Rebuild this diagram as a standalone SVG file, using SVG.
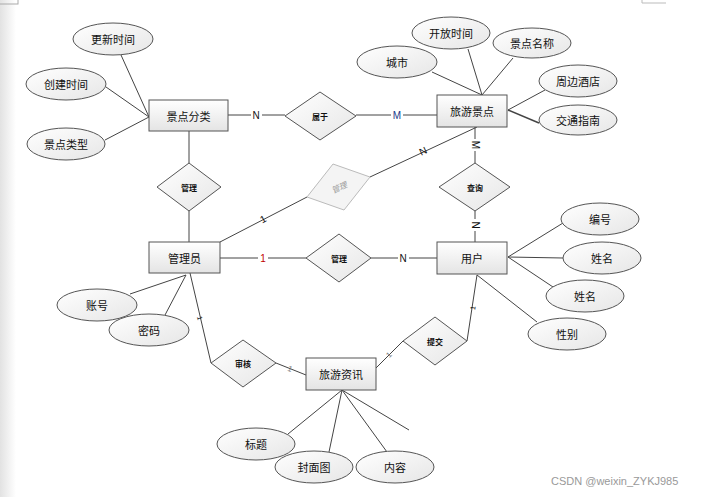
<svg xmlns="http://www.w3.org/2000/svg" width="704" height="497" viewBox="0 0 704 497">
<defs>
<linearGradient id="gr" x1="0" y1="0" x2="0" y2="1"><stop offset="0" stop-color="#ffffff"/><stop offset="1" stop-color="#e4e4e4"/></linearGradient>
<linearGradient id="ge" x1="0" y1="0" x2="1" y2="1"><stop offset="0" stop-color="#ffffff"/><stop offset="1" stop-color="#e6e6e6"/></linearGradient>
<linearGradient id="gl" x1="0" y1="0" x2="1" y2="0"><stop offset="0" stop-color="#e2e2e2"/><stop offset="1" stop-color="#ffffff"/></linearGradient>
</defs>
<style>
.ent{fill:url(#gr);stroke:#555;stroke-width:1}
.att{fill:url(#ge);stroke:#555;stroke-width:1}
.rel{fill:url(#ge);stroke:#555;stroke-width:1}
.t{font-family:"Noto Sans CJK SC",sans-serif;font-size:11px;fill:#111;text-anchor:middle;dominant-baseline:central}
.ts{font-family:"Noto Sans CJK SC",sans-serif;font-size:8px;font-weight:bold;fill:#111;text-anchor:middle;dominant-baseline:central}
.lb{font-family:"Liberation Sans",sans-serif;font-size:10px;fill:#111;text-anchor:middle;dominant-baseline:central}
.c line,.c polyline{stroke:#444;stroke-width:1;fill:none}
</style>
<rect x="0" y="0" width="16" height="497" fill="url(#gl)"/>
<rect x="-1" y="-1" width="19" height="5" fill="none" stroke="#aaa"/>
<polyline points="642,0 642,3 666,3" fill="none" stroke="#bbb"/>

<g class="c" id="connectors">
<line x1="121" y1="55" x2="149" y2="117"/>
<line x1="106" y1="87" x2="149" y2="117"/>
<line x1="105" y1="140" x2="149" y2="117"/>
<line x1="228" y1="115" x2="285" y2="115"/>
<line x1="356" y1="115" x2="437" y2="115"/>
<line x1="432" y1="72" x2="482" y2="95"/>
<line x1="468" y1="49" x2="482" y2="95"/>
<line x1="513" y1="58" x2="482" y2="95"/>
<line x1="545" y1="90" x2="508" y2="110"/>
<line x1="508" y1="110" x2="539" y2="123" style="stroke-width:1.5"/>
<line x1="475" y1="127" x2="475" y2="163"/>
<line x1="475" y1="211" x2="475" y2="242"/>
<line x1="189" y1="131" x2="189" y2="163"/>
<line x1="189" y1="211" x2="189" y2="242"/>
<line x1="220" y1="242" x2="307" y2="197"/>
<line x1="370" y1="177" x2="477" y2="127"/>
<line x1="220" y1="258" x2="306" y2="258"/>
<line x1="371" y1="258" x2="437" y2="258"/>
<line x1="508" y1="257" x2="563" y2="223"/>
<line x1="508" y1="257" x2="563" y2="258"/>
<line x1="508" y1="257" x2="553" y2="287"/>
<line x1="477" y1="275" x2="537" y2="322"/>
<line x1="477" y1="275" x2="467" y2="341"/>
<line x1="403" y1="341" x2="376" y2="368"/>
<line x1="190" y1="273" x2="211" y2="363"/>
<line x1="276" y1="363" x2="306" y2="375"/>
<line x1="186" y1="275" x2="130" y2="294"/>
<line x1="186" y1="275" x2="165" y2="315"/>
<line x1="342" y1="390" x2="288" y2="434"/>
<line x1="342" y1="390" x2="329" y2="452"/>
<line x1="342" y1="390" x2="387" y2="452"/>
<line x1="342" y1="390" x2="409" y2="430"/>
</g>

<g id="labels">
<rect x="251" y="109" width="11" height="12" fill="#fff"/><text class="lb" x="256" y="115">N</text>
<rect x="391" y="109" width="12" height="12" fill="#fff"/><text class="lb" x="397" y="115" fill="#1a3a8a" style="fill:#1a3a8a">M</text>
<rect x="469" y="139" width="12" height="12" fill="#fff"/><text class="lb" x="475" y="145" transform="rotate(90 475 145)">M</text>
<rect x="469" y="219" width="12" height="12" fill="#fff"/><text class="lb" x="475" y="225" transform="rotate(90 475 225)">N</text>
<text class="lb" x="263" y="219" transform="rotate(-28 263 219)">1</text>
<text class="lb" x="423" y="151" transform="rotate(-25 423 151)">N</text>
<rect x="258" y="252" width="10" height="12" fill="#fff"/><text class="lb" x="263" y="258" style="fill:#c00000">1</text>
<rect x="398" y="252" width="11" height="12" fill="#fff"/><text class="lb" x="403" y="258">N</text>
<text class="lb" x="200" y="318" transform="rotate(77 200 318)" style="font-size:7px">1</text>
<text class="lb" x="290" y="369" transform="rotate(22 290 369)" style="font-size:8px;fill:#777">1</text>
<text class="lb" x="473" y="308" transform="rotate(-80 473 308)" style="font-size:7px">1</text>
<text class="lb" x="389" y="355" transform="rotate(-45 389 355)" style="font-size:8px;fill:#777">1</text>
</g>

<g id="n-jdfl"><rect class="ent" x="149" y="100" width="79" height="31"/><text class="t" x="188.5" y="115.5">景点分类</text></g>
<g id="n-lyjd"><rect class="ent" x="437" y="95" width="70" height="32"/><text class="t" x="472" y="111">旅游景点</text></g>
<g id="n-gly"><rect class="ent" x="149" y="242" width="71" height="31"/><text class="t" x="184.5" y="257.5">管理员</text></g>
<g id="n-yh"><rect class="ent" x="437" y="242" width="70" height="32"/><text class="t" x="472" y="258">用户</text></g>
<g id="n-lyzx"><rect class="ent" x="306" y="358" width="70" height="32"/><text class="t" x="341" y="374">旅游资讯</text></g>

<g id="a-gxsj"><ellipse class="att" cx="113" cy="39" rx="40" ry="16"/><text class="t" x="113" y="39">更新时间</text></g>
<g id="a-cjsj"><ellipse class="att" cx="66" cy="84" rx="40" ry="16"/><text class="t" x="66" y="84">创建时间</text></g>
<g id="a-jdlx"><ellipse class="att" cx="66" cy="144" rx="39" ry="16"/><text class="t" x="66" y="144">景点类型</text></g>
<g id="a-cs"><ellipse class="att" cx="397" cy="62" rx="40" ry="16"/><text class="t" x="397" y="62">城市</text></g>
<g id="a-kfsj"><ellipse class="att" cx="451" cy="33" rx="39" ry="16"/><text class="t" x="451" y="33">开放时间</text></g>
<g id="a-jdmc"><ellipse class="att" cx="532" cy="43" rx="39" ry="15"/><text class="t" x="532" y="43">景点名称</text></g>
<g id="a-zbjd"><ellipse class="att" cx="578" cy="81" rx="39" ry="16"/><text class="t" x="578" y="81">周边酒店</text></g>
<g id="a-jtzn"><ellipse class="att" cx="578" cy="120" rx="39" ry="15"/><text class="t" x="578" y="120">交通指南</text></g>
<g id="a-bh"><ellipse class="att" cx="600" cy="219" rx="39" ry="16"/><text class="t" x="600" y="219">编号</text></g>
<g id="a-xm1"><ellipse class="att" cx="602" cy="258" rx="39" ry="16"/><text class="t" x="602" y="258">姓名</text></g>
<g id="a-xm2"><ellipse class="att" cx="585" cy="296" rx="39" ry="16"/><text class="t" x="585" y="296">姓名</text></g>
<g id="a-xb"><ellipse class="att" cx="567" cy="334" rx="39" ry="16"/><text class="t" x="567" y="334">性别</text></g>
<g id="a-zh"><ellipse class="att" cx="97" cy="305" rx="40" ry="16"/><text class="t" x="97" y="305">账号</text></g>
<g id="a-mm"><ellipse class="att" cx="149" cy="330" rx="40" ry="16"/><text class="t" x="149" y="330">密码</text></g>
<g id="a-bt"><ellipse class="att" cx="256" cy="444" rx="39" ry="16"/><text class="t" x="256" y="444">标题</text></g>
<g id="a-fmt"><ellipse class="att" cx="314" cy="467" rx="39" ry="16"/><text class="t" x="314" y="467">封面图</text></g>
<g id="a-nr"><ellipse class="att" cx="395" cy="467" rx="39" ry="16"/><text class="t" x="395" y="467">内容</text></g>

<g id="r-sy"><polygon class="rel" points="285,116 320,92 356,116 320,140"/><text class="ts" x="320" y="116">属于</text></g>
<g id="r-gl1"><polygon class="rel" points="157,187 189,163 221,187 189,211"/><text class="ts" x="189" y="187">管理</text></g>
<g id="r-gl2"><polygon points="307,197 333,164 370,177 344,210" fill="#f4f4f4" stroke="#bbb"/><text class="ts" x="339" y="187" transform="rotate(-25 339 187)" style="fill:#999;font-weight:normal;font-style:italic">管理</text></g>
<g id="r-cx"><polygon class="rel" points="439,187 475,163 510,187 475,211"/><text class="ts" x="475" y="187">查询</text></g>
<g id="r-gl3"><polygon class="rel" points="306,258 339,234 371,258 339,282"/><text class="ts" x="339" y="258">管理</text></g>
<g id="r-tj"><polygon class="rel" points="403,341 435,317 467,341 435,365"/><text class="ts" x="435" y="341">提交</text></g>
<g id="r-sh"><polygon class="rel" points="211,363 243,340 276,363 243,387"/><text class="ts" x="243" y="363">审核</text></g>

<text x="551" y="485" style="font-family:'Liberation Sans',sans-serif;font-size:11px;fill:#999">CSDN @weixin_ZYKJ985</text>
</svg>
